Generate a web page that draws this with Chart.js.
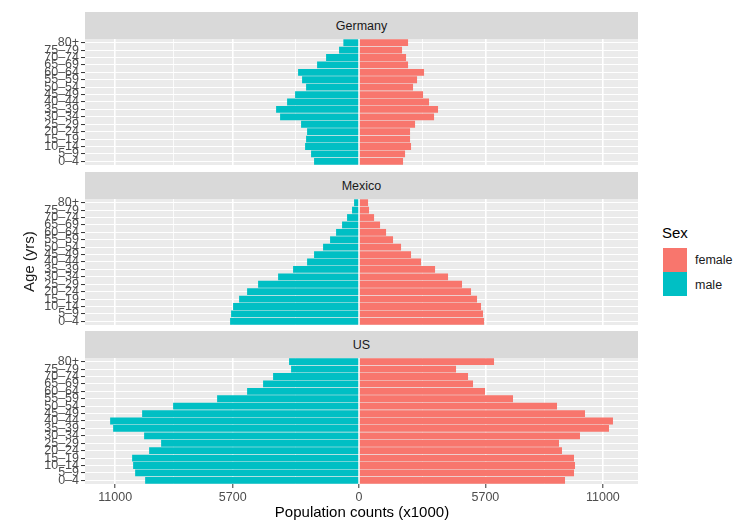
<!DOCTYPE html>
<html>
<head>
<meta charset="utf-8">
<script src="https://cdn.jsdelivr.net/npm/chart.js@4.4.0/dist/chart.umd.min.js"></script>
<style>
  body { margin:0; width:744px; height:522px; background:#fff; position:relative; overflow:hidden;
         font-family:'Liberation Sans', Arial, sans-serif; }
  .strip { position:absolute; left:85px; width:553px; height:27px; background:#D9D9D9; color:#1A1A1A;
           font-size:12.5px; line-height:29px; text-align:center; }
  .panel { position:absolute; left:0; }
  .txt { position:absolute; white-space:nowrap; font-weight:normal; }
  .key { position:absolute; left:663px; width:24px; height:24px; }
  .ytitle { position:absolute; left:20px; top:222px; height:80px; width:18px; font-size:15px; color:#1A1A1A;
            writing-mode:vertical-rl; transform:rotate(180deg); text-align:center; line-height:18px; }
</style>
</head>
<body>
<div class="strip" style="top:12px">Germany</div>
<div class="strip" style="top:172px">Mexico</div>
<div class="strip" style="top:331px">US</div>

<canvas id="de" class="panel" width="640" height="142" style="top:31px"></canvas>
<canvas id="mx" class="panel" width="640" height="142" style="top:191px"></canvas>
<canvas id="us" class="panel" width="640" height="168" style="top:350px"></canvas>

<div class="ytitle">Age (yrs)</div>
<div class="txt" style="left:362px; top:511px; font-size:15px; transform:translate(-50%,-50%);">Population counts (x1000)</div>

<div class="txt" style="left:662px; top:224px; font-size:15px;">Sex</div>
<div class="key" style="top:248px; background:#F8766D"></div>
<div class="key" style="top:272px; background:#00BFC4"></div>
<div class="txt" style="left:695px; top:253px; font-size:12.5px; color:#1A1A1A">female</div>
<div class="txt" style="left:695px; top:278px; font-size:12.5px; color:#1A1A1A">male</div>

<script>
// age groups, youngest first (drawn bottom to top)
const ageGroups = ['0–4','5–9','10–14','15–19','20–24','25–29','30–34','35–39','40–44',
                   '45–49','50–54','55–59','60–64','65–69','70–74','75–79','80+'];

// population counts (x1000)
const germanyMale   = [2030, 2165, 2435, 2390, 2345, 2616, 3563, 3743, 3247, 2886, 2390, 2571, 2751, 1894, 1488, 902, 708];
const germanyFemale = [1984, 2075, 2345, 2300, 2300, 2526, 3383, 3563, 3157, 2886, 2435, 2616, 2932, 2210, 2120, 1939, 2210];
const mexicoMale    = [5818, 5773, 5683, 5412, 5051, 4555, 3653, 2977, 2345, 2030, 1624, 1308, 1037, 767, 541, 316, 225];
const mexicoFemale  = [5638, 5592, 5502, 5322, 5051, 4645, 4014, 3428, 2796, 2345, 1894, 1533, 1218, 947, 677, 451, 406];
const usMale        = [9651, 10102, 10193, 10238, 9471, 8930, 9697, 11095, 11230, 9787, 8389, 6404, 5051, 4330, 3879, 3067, 3157];
const usFemale      = [9291, 9697, 9742, 9697, 9155, 9020, 9967, 11275, 11455, 10193, 8930, 6945, 5683, 5141, 4916, 4375, 6089];

// x axis ticks (major ones get labels, the others are minor gridlines)
const majorTicks = [-11000, -5700, 0, 5700, 11000];
const minorTicks = [-8350, -2850, 2850, 8350];
const xMin = -12364, xMax = 12584;

const FONT = "'Liberation Sans', Arial, sans-serif";
const PAD = 8;
const isMajor = v => majorTicks.includes(v);

const panelBg = {
  id: 'panelBg',
  beforeDraw(chart) {
    const a = chart.chartArea, c = chart.ctx;
    c.save();
    c.fillStyle = '#EBEBEB';
    c.fillRect(a.left, a.top, a.right - a.left, a.bottom - a.top);
    c.restore();
  }
};

function makePanel(id, male, female, showX) {
  return new Chart(document.getElementById(id), {
    type: 'bar',
    data: {
      labels: ageGroups,
      datasets: [
        { label: 'female', data: female, backgroundColor: '#F8766D' },
        { label: 'male', data: male.map(v => -v), backgroundColor: '#00BFC4' }
      ]
    },
    options: {
      indexAxis: 'y',
      responsive: false,
      animation: false,
      layout: { padding: { top: PAD, bottom: showX ? 0 : PAD, left: 0, right: 2 } },
      plugins: { legend: { display: false }, tooltip: { enabled: false } },
      datasets: { bar: { barPercentage: 0.92, categoryPercentage: 1 } },
      scales: {
        x: {
          type: 'linear', stacked: true, min: xMin, max: xMax,
          afterBuildTicks: s => { s.ticks = majorTicks.concat(minorTicks).sort((a, b) => a - b).map(v => ({ value: v })); },
          afterFit: s => { s.height = showX ? 34 : 0; s.paddingLeft = 0; s.paddingRight = 0; },
          border: { display: false },
          grid: {
            color: '#fff',
            lineWidth: c => (c.tick && isMajor(c.tick.value)) ? 1.6 : 0.8,
            drawTicks: showX, tickLength: 4, tickWidth: 1,
            tickColor: c => (c.tick && isMajor(c.tick.value)) ? '#333333' : 'rgba(0,0,0,0)'
          },
          ticks: {
            display: showX, autoSkip: false, maxRotation: 0, padding: 2,
            color: '#4D4D4D', font: { size: 12.5, family: FONT },
            callback: v => isMajor(v) ? String(Math.abs(v)) : ''
          }
        },
        y: {
          stacked: true, reverse: true,
          afterFit: s => { s.width = 85; s.paddingTop = 0; s.paddingBottom = 0; },
          border: { display: false },
          grid: { color: '#fff', lineWidth: 1.1, offset: false, drawTicks: true, tickLength: 4, tickWidth: 1, tickColor: '#333333' },
          ticks: { autoSkip: false, padding: 2, color: '#4D4D4D', font: { size: 12.5, family: FONT } }
        }
      }
    },
    plugins: [panelBg]
  });
}

makePanel('de', germanyMale, germanyFemale, false);
makePanel('mx', mexicoMale, mexicoFemale, false);
makePanel('us', usMale, usFemale, true);
</script>
</body>
</html>
